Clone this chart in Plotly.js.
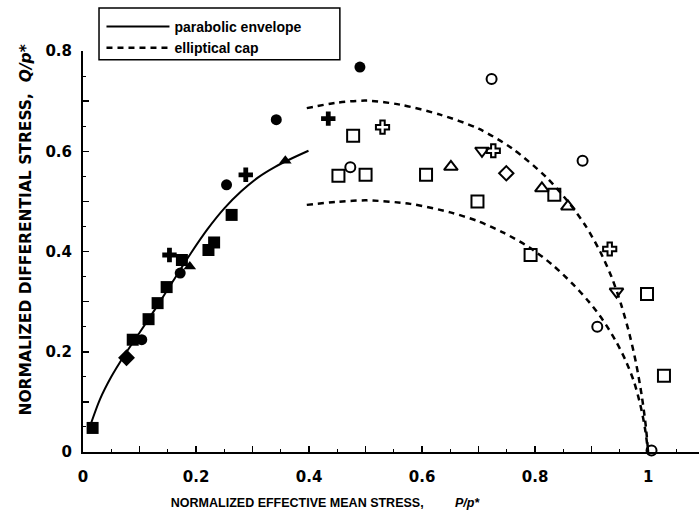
<!DOCTYPE html>
<html><head><meta charset="utf-8">
<script src="https://cdn.plot.ly/plotly-3.0.1.min.js"></script>
<style>html,body{margin:0;padding:0;background:#fff}#chart{width:699px;height:524px}</style>
</head><body><div id="chart"></div>
<script>
// Parabolic envelope (solid line)
const envelopeP = [0.012, 0.03, 0.05, 0.075, 0.1, 0.13, 0.16, 0.19, 0.22, 0.25, 0.28, 0.31, 0.34, 0.37, 0.399];
const envelopeQ = [0.05, 0.105, 0.15, 0.196, 0.238, 0.289, 0.342, 0.395, 0.444, 0.486, 0.52, 0.548, 0.569, 0.586, 0.601];
// Elliptical caps (dashed lines)
const capOuterP = [0.396, 0.45, 0.502, 0.561, 0.632, 0.70, 0.76, 0.82, 0.86, 0.89, 0.915, 0.935, 0.952, 0.967, 0.979, 0.989, 0.996, 1.0];
const capOuterQ = [0.686, 0.697, 0.701, 0.693, 0.673, 0.645, 0.605, 0.548, 0.497, 0.45, 0.40, 0.35, 0.295, 0.235, 0.175, 0.11, 0.05, 0];
const capInnerP = [0.396, 0.45, 0.502, 0.579, 0.65, 0.70, 0.745, 0.79, 0.83, 0.865, 0.895, 0.92, 0.942, 0.96, 0.975, 0.986, 0.994, 1.0];
const capInnerQ = [0.493, 0.499, 0.502, 0.495, 0.478, 0.46, 0.437, 0.408, 0.374, 0.337, 0.30, 0.263, 0.223, 0.183, 0.14, 0.095, 0.05, 0];
// Filled symbols
const fSquareP = [0.017, 0.088, 0.116, 0.132, 0.148, 0.175, 0.222, 0.232, 0.263];
const fSquareQ = [0.048, 0.224, 0.265, 0.297, 0.329, 0.383, 0.403, 0.418, 0.473];
const fCircleP = [0.104, 0.172, 0.254, 0.342, 0.49];
const fCircleQ = [0.224, 0.357, 0.533, 0.663, 0.768];
const fDiamondP = [0.077];
const fDiamondQ = [0.188];
const fCrossP = [0.153, 0.288, 0.434];
const fCrossQ = [0.393, 0.553, 0.665];
const fTriP = [0.189, 0.358];
const fTriQ = [0.37, 0.581];
// Open symbols
const oSquareP = [0.478, 0.452, 0.5, 0.607, 0.698, 0.834, 0.792, 0.998, 1.028];
const oSquareQ = [0.631, 0.551, 0.553, 0.553, 0.5, 0.513, 0.393, 0.315, 0.152];
const oCircleP = [0.723, 0.473, 0.884, 0.91, 1.006];
const oCircleQ = [0.744, 0.568, 0.581, 0.25, 0.003];
const oDiamondP = [0.749];
const oDiamondQ = [0.556];
const oPentP = [0.993];
const oPentQ = [-0.004];
const oCrossP = [0.53, 0.726, 0.932];
const oCrossQ = [0.648, 0.601, 0.405];
const oTriUpP = [0.651, 0.812, 0.858];
const oTriUpQ = [0.569, 0.526, 0.49];
const oTriDnP = [0.706, 0.944];
const oTriDnQ = [0.601, 0.32];

const xTickVals = [0, 0.1, 0.2, 0.3, 0.4, 0.5, 0.6, 0.7, 0.8, 0.9, 1];
const xTickText = ["0", "", "0.2", "", "0.4", "", "0.6", "", "0.8", "", "1"];
const yTickVals = [0, 0.1, 0.2, 0.3, 0.4, 0.5, 0.6, 0.7, 0.8];
const yTickText = ["0", "", "0.2", "", "0.4", "", "0.6", "", "0.8"];

function mk(x, y, symbol, size, open) {
  return {x: x, y: y, type: 'scatter', mode: 'markers', showlegend: false, cliponaxis: false,
    marker: {symbol: symbol, size: size, color: '#000',
      line: {color: '#000', width: open ? 2 : 0}}};
}

const traces = [
  {x: envelopeP, y: envelopeQ, type: 'scatter', mode: 'lines', name: 'parabolic envelope',
   line: {color: '#000', width: 2, shape: 'spline', smoothing: 0.8}},
  {x: capOuterP, y: capOuterQ, type: 'scatter', mode: 'lines', name: 'elliptical cap',
   line: {color: '#000', width: 2.5, dash: '6px,5px', shape: 'spline', smoothing: 0.8}, cliponaxis: false},
  {x: capInnerP, y: capInnerQ, type: 'scatter', mode: 'lines', name: 'elliptical cap', showlegend: false,
   line: {color: '#000', width: 2.5, dash: '6px,5px', shape: 'spline', smoothing: 0.8}, cliponaxis: false},
  mk(fSquareP, fSquareQ, 'square', 12, false),
  mk(fCircleP, fCircleQ, 'circle', 11, false),
  mk(fDiamondP, fDiamondQ, 'diamond', 13, false),
  mk(fCrossP, fCrossQ, 'cross', 12, false),
  mk(fTriP, fTriQ, 'triangle-up', 11, false),
  mk(oSquareP, oSquareQ, 'square-open', 12, true),
  mk(oCircleP, oCircleQ, 'circle-open', 10, true),
  mk(oDiamondP, oDiamondQ, 'diamond-open', 11, true),
  mk(oPentP, oPentQ, 'pentagon-open', 10, true),
  mk(oCrossP, oCrossQ, 'cross-open', 11, true),
  mk(oTriUpP, oTriUpQ, 'triangle-up-open', 12, true),
  mk(oTriDnP, oTriDnQ, 'triangle-down-open', 12, true)
];

const tickFont = {family: 'DejaVu Sans, sans-serif', size: 15, color: '#000', weight: 700};
const NB = '\u00A0';
const ZW = '\u200B';

const layout = {
  width: 699, height: 524,
  margin: {l: 83, r: 0, t: 51, b: 72},
  paper_bgcolor: '#fff', plot_bgcolor: '#fff',
  showlegend: true,
  legend: {x: 0.03, xanchor: 'left', y: 1.1, yanchor: 'top', bgcolor: 'rgba(0,0,0,0)',
    font: {family: 'Liberation Sans, Arial, sans-serif', size: 14, color: '#000', weight: 700},
    itemwidth: 63, tracegroupgap: 0},
  shapes: [
    {type: 'rect', xref: 'paper', yref: 'paper', x0: 0.026, x1: 0.417, y0: 0.978, y1: 1.107,
     line: {color: '#000', width: 1.5}, fillcolor: 'rgba(0,0,0,0)'}
  ],
  xaxis: {range: [0, 1.09], showgrid: false, zeroline: false, showline: true, linecolor: '#000', linewidth: 2,
    tickmode: 'array', tickvals: xTickVals, ticktext: xTickText, ticks: 'inside', ticklen: 6, tickwidth: 1.5, tickcolor: '#000',
    minor: {dtick: 0.05, tick0: 0, ticks: 'inside', ticklen: 3, tickwidth: 1, tickcolor: '#000'},
    tickfont: tickFont, ticklabelstandoff: 10,
    title: {text: 'NORMALIZED EFFECTIVE MEAN STRESS,' + NB.repeat(9) + '<i>P/p*</i>' + NB.repeat(38) + ZW,
      font: {family: 'Liberation Sans, Arial, sans-serif', size: 12.5, color: '#000', weight: 700}, standoff: 13}},
  yaxis: {range: [0, 0.8], showgrid: false, zeroline: false, showline: true, linecolor: '#000', linewidth: 2,
    tickmode: 'array', tickvals: yTickVals, ticktext: yTickText, ticks: 'inside', ticklen: 6, tickwidth: 1.5, tickcolor: '#000',
    minor: {dtick: 0.05, tick0: 0, ticks: 'inside', ticklen: 3, tickwidth: 1, tickcolor: '#000'},
    tickfont: tickFont, ticklabelstandoff: 6,
    title: {text: ZW + NB.repeat(8) + 'NORMALIZED DIFFERENTIAL STRESS,' + NB.repeat(2) + '<i>Q/p*</i>',
      font: {family: 'DejaVu Sans, sans-serif', size: 15.5, color: '#000', weight: 700}, standoff: 10}}
};

Plotly.newPlot('chart', traces, layout, {displayModeBar: false, staticPlot: true});
</script></body></html>
